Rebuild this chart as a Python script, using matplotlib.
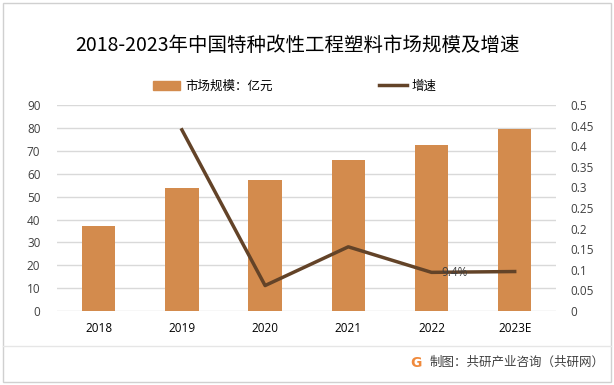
import numpy as np
import matplotlib.pyplot as plt
from matplotlib.patches import Rectangle
from matplotlib.lines import Line2D
from matplotlib.ticker import FixedLocator, FuncFormatter

plt.rcParams['font.family'] = ['Noto Sans CJK SC', 'DejaVu Sans']

# 数据
years = ['2018', '2019', '2020', '2021', '2022', '2023E']
market_size = [37.2, 53.8, 57.4, 66.0, 72.6, 79.7]  # 亿元
growth = [np.nan, 0.44, 0.062, 0.156, 0.094, 0.096]
left_ticks = list(range(0, 100, 10))
right_ticks = [i * 0.05 for i in range(11)]

bar_color = '#D38B4D'
line_color = '#634328'
grid_color = '#D9D9D9'
tick_color = '#404040'
num_font = ['Open Sans', 'DejaVu Sans']

fig = plt.figure(figsize=(6.14, 3.85), dpi=100)
ax = fig.add_axes([0.093, 0.192, 0.813, 0.535])
ax2 = ax.twinx()

x = np.arange(len(years))
ax.bar(x, market_size, width=0.4, color=bar_color, zorder=2)
ax.set_ylim(0, 90)
ax.set_xlim(-0.5, len(years) - 0.5)
ax.yaxis.set_major_locator(FixedLocator(left_ticks))
ax.grid(axis='y', color=grid_color, linewidth=1, zorder=0)
ax.set_axisbelow(True)
ax.set_xticks(x)
ax.set_xticklabels(years, fontsize=8.5, color='black', family=num_font)
ax.tick_params(axis='both', length=0)
ax.tick_params(axis='x', pad=8)
ax.tick_params(axis='y', pad=12, labelsize=8.5, labelcolor=tick_color)
for lab in ax.get_yticklabels():
    lab.set_family(num_font)

ax2.plot(x, growth, color=line_color, linewidth=2.5, zorder=3)
ax2.set_ylim(0, 0.5)
ax2.yaxis.set_major_locator(FixedLocator(right_ticks))
ax2.yaxis.set_major_formatter(FuncFormatter(lambda v, p: ('%.2f' % v).rstrip('0').rstrip('.')))
ax2.tick_params(axis='y', length=0, pad=10, labelsize=8.5, labelcolor=tick_color)
for lab in ax2.get_yticklabels():
    lab.set_family(num_font)
ax2.text(x[4] + 0.12, growth[4], '9.4%', fontsize=8.5, color='#404040',
         va='center', ha='left', family=num_font)

for a in (ax, ax2):
    for s in a.spines.values():
        s.set_visible(False)

# 标题
fig.text(0.485, 0.883, '2018-2023年中国特种改性工程塑料市场规模及增速', ha='center', va='center',
         fontsize=14, color='black')

# 图例
handles = [Rectangle((0, 0), 1, 1, color=bar_color),
           Line2D([0], [0], color=line_color, linewidth=2.5)]
fig.legend(handles, ['市场规模：亿元', '增速'], loc='center', bbox_to_anchor=(0.48, 0.776),
           ncol=2, frameon=False, fontsize=9, columnspacing=8.5, handlelength=2.2,
           handletextpad=0.4)

# 边框和分隔线
fig.add_artist(Rectangle((0.005, 0.008), 0.99, 0.984, transform=fig.transFigure,
                         fill=False, edgecolor='#D0D0D0', linewidth=1))
fig.add_artist(Line2D([0.005, 0.995], [0.101, 0.101], transform=fig.transFigure,
                      color='#E6E6E6', linewidth=1))

# 来源
fig.text(0.678, 0.058, 'G', fontsize=10, fontweight='bold', color='#F08A3C',
         ha='center', va='center', family='DejaVu Sans')
fig.text(0.7, 0.058, '制图：共研产业咨询（共研网）', fontsize=9, color='#404040',
         ha='left', va='center')

fig.savefig('out.png', dpi=100)
